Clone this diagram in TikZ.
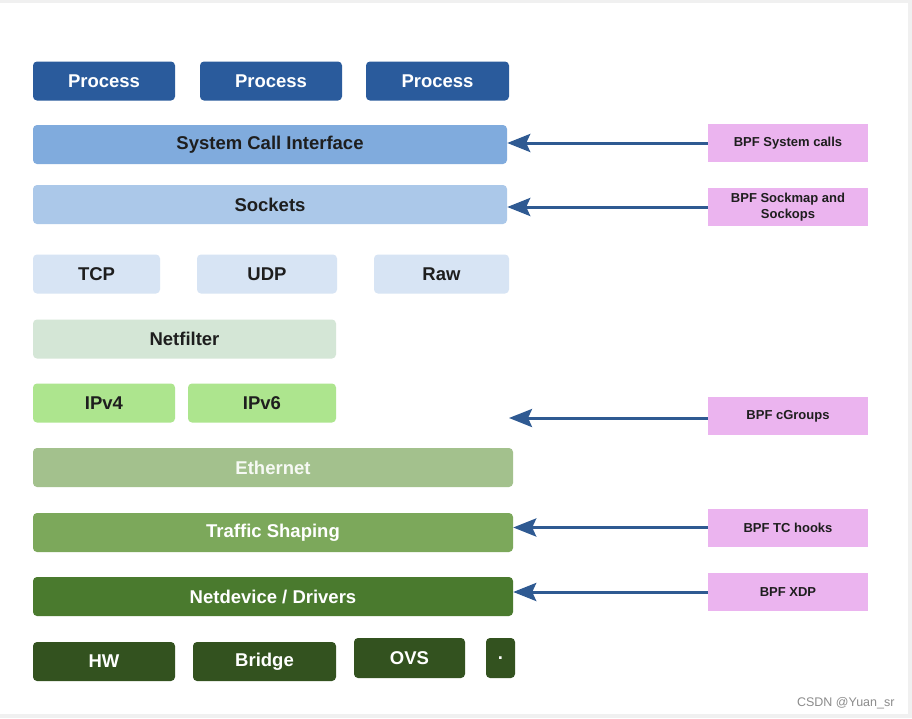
\documentclass[tikz,border=0pt]{standalone}
\usepackage{fontspec}
\setmainfont{Liberation Sans}
\usetikzlibrary{arrows.meta}
\definecolor{procblue}{HTML}{2A5B9C}
\definecolor{sysblue}{HTML}{80ABDD}
\definecolor{sockblue}{HTML}{ABC8E9}
\definecolor{protoblue}{HTML}{D7E4F4}
\definecolor{nfgreen}{HTML}{D4E6D6}
\definecolor{ipgreen}{HTML}{ADE58E}
\definecolor{ethgreen}{HTML}{A3C18D}
\definecolor{tcgreen}{HTML}{7CA85B}
\definecolor{devgreen}{HTML}{4A7A2E}
\definecolor{hwgreen}{HTML}{33521F}
\definecolor{bpfpink}{HTML}{EBB4EF}
\definecolor{arrowblue}{HTML}{2F5A92}
\definecolor{labelgray}{HTML}{1E1E1E}
\begin{document}
\begin{tikzpicture}[x=1pt, y=-1pt,
    layer/.style={rounded corners=4pt, minimum height=39pt, inner sep=0pt, text=labelgray,
        font=\fontsize{18.5}{20}\selectfont\bfseries},
    bpf/.style={fill=bpfpink, minimum width=160pt, minimum height=38pt, inner sep=0pt, text=labelgray,
        align=center, font=\fontsize{13}{16.5}\selectfont\bfseries},
    hook/.style={draw=arrowblue, line width=3pt,
        -{Stealth[length=23pt, width=18pt, inset=4pt]}}]
    % frame
    \fill[black!6] (0,0) rectangle (912,718);
    \fill[white] (0,3) rectangle (908,714);
    % user space
    \node[layer, fill=procblue, text=white, minimum width=142pt] (proc1) at (104,81) {Process};
    \node[layer, fill=procblue, text=white, minimum width=142pt] (proc2) at (271,81) {Process};
    \node[layer, fill=procblue, text=white, minimum width=143pt] (proc3) at (437.5,81) {Process};
    % kernel layers
    \node[layer, fill=sysblue, minimum width=474pt] (syscall) at (270,144.5) {System Call Interface};
    \node[layer, fill=sockblue, minimum width=474pt] (sockets) at (270,204.5) {Sockets};
    \node[layer, fill=protoblue, minimum width=127pt] (tcp) at (96.5,274) {TCP};
    \node[layer, fill=protoblue, minimum width=140pt] (udp) at (267,274) {UDP};
    \node[layer, fill=protoblue, minimum width=135pt] (raw) at (441.5,274) {Raw};
    \node[layer, fill=nfgreen, minimum width=303pt] (netfilter) at (184.5,339) {Netfilter};
    \node[layer, fill=ipgreen, minimum width=142pt] (ipv4) at (104,403) {IPv4};
    \node[layer, fill=ipgreen, minimum width=148pt] (ipv6) at (262,403) {IPv6};
    \node[layer, fill=ethgreen, text=white!90!ethgreen, minimum width=480pt] (ethernet) at (273,467.5) {Ethernet};
    \node[layer, fill=tcgreen, text=white, minimum width=480pt] (shaping) at (273,532.5) {Traffic Shaping};
    \node[layer, fill=devgreen, text=white, minimum width=480pt] (netdev) at (273,596.5) {Netdevice / Drivers};
    \node[layer, fill=hwgreen, text=white, minimum width=142pt] (hw) at (104,661.5) {HW};
    \node[layer, fill=hwgreen, text=white, minimum width=143pt] (bridge) at (264.5,661.5) {Bridge};
    \node[layer, fill=hwgreen, text=white, minimum width=111pt, minimum height=40pt] (ovs) at (409.5,658) {OVS};
    \node[layer, fill=hwgreen, text=white, minimum width=29pt, minimum height=40pt] (more) at (500.5,658) {.};
    % BPF hooks
    \node[bpf] (bpfsys) at (788,143) {BPF System calls};
    \node[bpf] (bpfsock) at (788,207) {BPF Sockmap and\\Sockops};
    \node[bpf] (bpfcg) at (788,416) {BPF cGroups};
    \node[bpf] (bpftc) at (788,527.5) {BPF TC hooks};
    \node[bpf] (bpfxdp) at (788,592) {BPF XDP};
    \coordinate (cgtip) at (509,418);
    \draw[hook] (bpfsys.west) -- (bpfsys.west -| syscall.east);
    \draw[hook] (bpfsock.west) -- (bpfsock.west -| sockets.east);
    \draw[hook] (bpfcg.west |- cgtip) -- (cgtip);
    \draw[hook] (bpftc.west) -- (bpftc.west -| shaping.east);
    \draw[hook] (bpfxdp.west) -- (bpfxdp.west -| netdev.east);
    % watermark
    \node[text=black!45, font=\fontsize{12.5}{14}\selectfont, anchor=east] (mark) at (898,703) {CSDN @Yuan\_sr};
\end{tikzpicture}
\end{document}
